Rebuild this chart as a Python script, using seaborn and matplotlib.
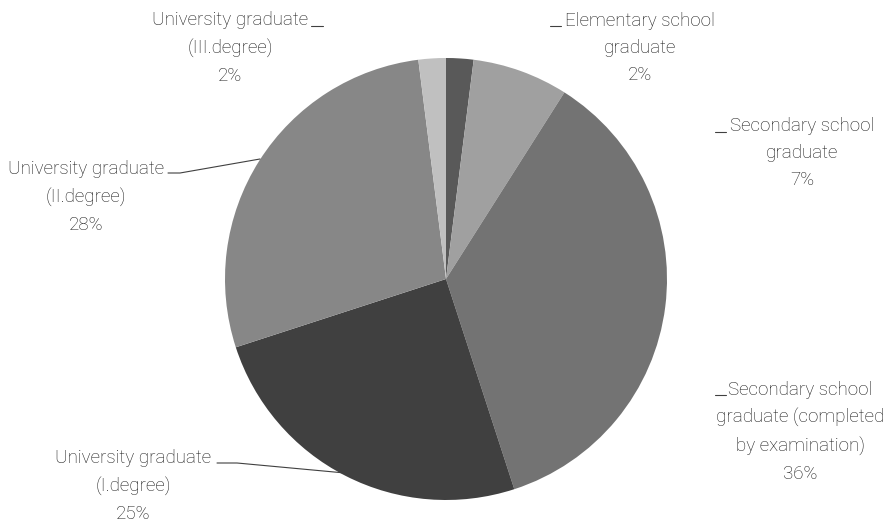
import matplotlib
matplotlib.use("Agg")
import matplotlib.pyplot as plt
import seaborn as sns

categories = ["Elementary school\ngraduate",
              "Secondary school\ngraduate",
              "Secondary school\ngraduate (completed\nby examination)",
              "University graduate\n(I.degree)",
              "University graduate\n(II.degree)",
              "University graduate\n(III.degree)"]
values = [2, 7, 36, 25, 28, 2]
colors = ["#595959", "#a0a0a0", "#737373", "#404040", "#878787", "#c0c0c0"]

sns.set_theme(style="white")
plt.rcParams['font.family'] = ['Roboto', 'DejaVu Sans']

W, H = 889, 522
fig = plt.figure(figsize=(W / 100, H / 100), dpi=100)
ax = fig.add_axes([0, 0, 1, 1])
ax.set_xlim(0, W)
ax.set_ylim(0, H)
ax.set_aspect("equal")
ax.axis("off")

cx, cy, r = 446, H - 279, 221
ax.pie(values, colors=colors, startangle=90, counterclock=False,
       center=(cx, cy), radius=r, wedgeprops=dict(linewidth=0))
ax.set_xlim(0, W)
ax.set_ylim(0, H)

# label text centers (pixel coords, y from top), leader segments
label_pos = [(640, 48), (802, 153), (800, 432), (133, 486), (86, 197), (230, 48)]
leaders = [
    [(550, 26), (561, 26)],
    [(715, 132), (726, 132)],
    [(715, 395), (726, 395)],
    [(217, 463), (237, 463), (345, 473)],
    [(168, 173), (180, 173), (260, 159)],
    [(311, 26), (323, 26)],
]

for cat, v, (lx, ly), seg in zip(categories, values, label_pos, leaders):
    ax.text(lx, H - ly, f"{cat}\n{v}%", ha="center", va="center",
            fontsize=13.5, fontweight="light", color="#1a1a1a",
            linespacing=1.66)
    xs = [p[0] for p in seg]
    ys = [H - p[1] for p in seg]
    ax.plot(xs, ys, color="#404040", linewidth=0.8)

fig.savefig("out.png", dpi=100)
